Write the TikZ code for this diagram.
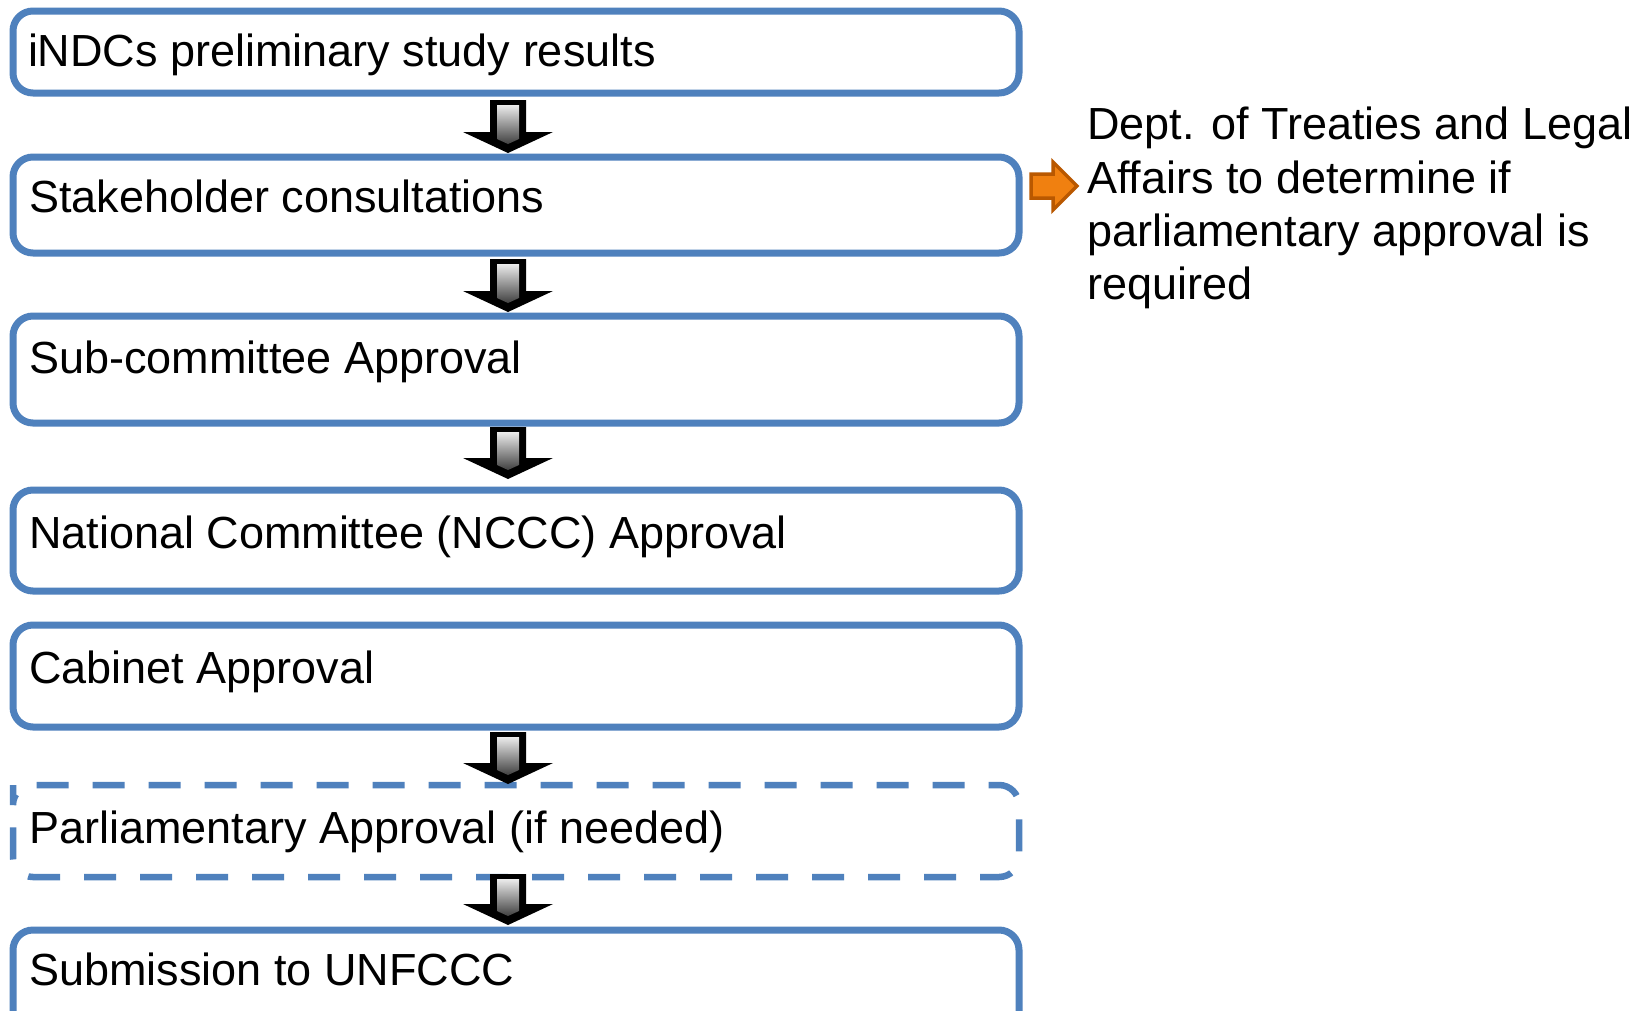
\documentclass[tikz,border=0pt]{standalone}
\usepackage{fontspec}
\setmainfont{Liberation Sans}
\usetikzlibrary{calc}
\definecolor{boxblue}{RGB}{79,129,189}
\definecolor{arrorange}{RGB}{240,128,16}
\definecolor{arrorangedark}{RGB}{185,88,0}
\newcommand\blockarr[3]{%
  \fill[black] (#1-18,#2) -- (#1+18,#2) -- (#1+18,#3-21) -- (#1+45,#3-21) -- (#1,#3) -- (#1-45,#3-21) -- (#1-18,#3-21) -- cycle;
  \shade[top color=gray!15, bottom color=black!75] (#1-11,#2+5) -- (#1+11,#2+5) -- (#1+11,#3-14) -- (#1,#3-9) -- (#1-11,#3-14) -- cycle;
}
\begin{document}
\begin{tikzpicture}[x=1pt,y=-1pt,
  box/.style={draw=boxblue, line width=7pt, rounded corners=20pt, minimum width=1006pt,
    inner sep=0pt, outer sep=0pt, anchor=north west},
  dline/.style={draw=boxblue, line width=6.5pt, rounded corners=20pt, dash pattern=on 32pt off 24pt, dash phase=1pt},
  lbl/.style={anchor=base west, inner sep=0pt, outer sep=0pt, font=\fontsize{45}{54}\selectfont}]
\useasboundingbox (0,0) rectangle (1640,1010);
\clip (0,0) rectangle (1640,1010);
\fill[white] (0,0) rectangle (1640,1010);
% boxes
\node[box, minimum height=82pt]  (b1) at (13,11)  {};
\node[box, minimum height=96pt]  (b2) at (13,157) {};
\node[box, minimum height=107pt] (b3) at (13,316) {};
\node[box, minimum height=101pt] (b4) at (13,490) {};
\node[box, minimum height=102pt] (b5) at (13,625) {};
\node[box, draw=none, minimum height=92pt] (b6) at (13,785) {};
\draw[dline] ($(b6.north west)+(0,20)$) -- (b6.north west) -- (b6.north east) -- (b6.south east) -- (b6.south west) -- cycle;
\node[box, minimum height=110pt] (b7) at (13,930) {};
% texts
\node[lbl] (t1) at (28,66)  {iNDCs preliminary study results};
\node[lbl] (t2) at (29,212) {Stakeholder consultations};
\node[lbl] (t3) at (29,373) {Sub-committee Approval};
\node[lbl] (t4) at (29,548) {National Committee (NCCC) Approval};
\node[lbl] (t5) at (29,683) {Cabinet Approval};
\node[lbl] (t6) at (29,843) {Parliamentary Approval (if needed)};
\node[lbl] (t7) at (29,985) {Submission to UNFCCC};
% right text
\node[lbl] (r1) at (1087,139) {Dept. of Treaties and Legal};
\node[lbl] (r2) at (1087,193) {Affairs to determine if};
\node[lbl] (r3) at (1087,246) {parliamentary approval is};
\node[lbl] (r4) at (1087,299) {required};
% block arrows
\blockarr{508}{100}{153}
\blockarr{508}{259}{312}
\blockarr{508}{427}{479}
\blockarr{508}{732}{784}
\blockarr{508}{874}{925}
% orange arrow
\filldraw[fill=arrorange, draw=arrorangedark, line width=3.5pt, line join=miter]
  (1031,174) -- (1053,174) -- (1053,162) -- (1077,186) -- (1053,210) -- (1053,198) -- (1031,198) -- cycle;
\end{tikzpicture}
\end{document}
